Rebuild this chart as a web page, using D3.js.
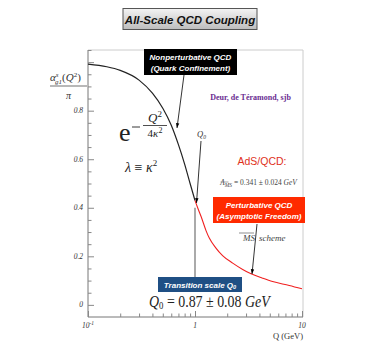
<!DOCTYPE html>
<html><head><meta charset="utf-8">
<script src="https://cdn.jsdelivr.net/npm/d3@7"></script>
<style>body{margin:0;background:#fff}svg{display:block}</style>
</head><body>
<script>
// Data
const qNonpert = [0.1, 0.15, 0.2, 0.3, 0.4, 0.5, 0.6, 0.7, 0.8, 0.9, 1.0];
const aNonpert = [0.992, 0.981, 0.966, 0.926, 0.872, 0.81, 0.74, 0.66, 0.58, 0.50, 0.43];
const qPert = [1.0, 1.07, 1.14, 1.27, 1.36, 1.57, 1.81, 2.25, 2.79, 3.34, 4.28, 5.31, 7.6, 10];
const aPert = [0.43, 0.395, 0.364, 0.305, 0.275, 0.234, 0.203, 0.172, 0.146, 0.128, 0.11, 0.096, 0.08, 0.066];
const yTickValues = [0, 0.2, 0.4, 0.6, 0.8];
const yTickLabels = ["0", "0.2", "0.4", "0.6", "0.8"];
const xTickValues = [0.1, 1, 10];
const xTickLabels = ["10", "1", "10"];
const xTickSups = ["-1", "", ""];

const W = 382, H = 354;
const svg = d3.select("body").append("svg").attr("width", W).attr("height", H);
const defs = svg.append("defs");
const grad = defs.append("linearGradient").attr("id", "tg").attr("x1", 0).attr("y1", 0).attr("x2", 0).attr("y2", 1);
grad.append("stop").attr("offset", "0%").attr("stop-color", "#f4f4f4");
grad.append("stop").attr("offset", "100%").attr("stop-color", "#bdbdbd");
defs.append("marker").attr("id", "ah").attr("viewBox", "0 0 10 10").attr("refX", 10).attr("refY", 5)
  .attr("markerWidth", 6).attr("markerHeight", 6).attr("orient", "auto")
  .append("path").attr("d", "M0,1.5 L10,5 L0,8.5 Z").attr("fill", "#000");

const L = 88, R = 303, T = 50, B = 317;
const x = d3.scaleLog().domain([0.1, 10]).range([L, 302]);
const y = d3.scaleLinear().domain([-0.05, 1.05]).range([B, T]);

const serif = "'Liberation Serif', 'DejaVu Serif', serif";
const sans = "'Liberation Sans', Arial, sans-serif";

// Title box
svg.append("rect").attr("x", 123).attr("y", 8.5).attr("width", 134).attr("height", 21)
  .attr("fill", "url(#tg)").attr("stroke", "#555").attr("stroke-width", 1);
svg.append("text").attr("x", 190).attr("y", 23.5).attr("text-anchor", "middle")
  .attr("font-family", sans).attr("font-weight", "bold").attr("font-style", "italic")
  .attr("font-size", 11.5).attr("fill", "#111").text("All-Scale QCD Coupling");

// Frame
svg.append("path").attr("d", `M${L},${T}H${R}V${B}`).attr("fill", "none").attr("stroke", "#ccc").attr("stroke-width", 1);
svg.append("path").attr("d", `M${L},${T}V${B}H${R}`).attr("fill", "none").attr("stroke", "#777").attr("stroke-width", 1);

// Y axis ticks (inward)
const yAxis = d3.axisRight(y).tickValues(d3.range(-0.05, 1.051, 0.05).map(v => +v.toFixed(2)).filter(v => v > -0.04))
  .tickSize(4).tickFormat("");
const gy = svg.append("g").attr("transform", `translate(${L},0)`).call(yAxis);
gy.select(".domain").remove();
gy.selectAll(".tick line").attr("stroke", "#888").attr("x2", d => (Math.abs(d * 5 - Math.round(d * 5)) < 1e-6) ? 6 : 3.5);
yTickValues.forEach((v, i) => {
  svg.append("text").attr("x", 83).attr("y", y(v) + 2.5).attr("text-anchor", "end")
    .attr("font-family", serif).attr("font-style", "italic").attr("font-size", 7.5).attr("fill", "#333")
    .text(yTickLabels[i]);
});

// X axis ticks (inward)
const xMinor = [];
[0.1, 1].forEach(d => { for (let k = 1; k <= 9; k++) xMinor.push(+(d * k).toFixed(3)); });
xMinor.push(10);
const xAxis = d3.axisTop(x).tickValues(xMinor).tickSize(3).tickFormat("");
const gx = svg.append("g").attr("transform", `translate(0,${B})`).call(xAxis);
gx.select(".domain").remove();
gx.selectAll(".tick line").attr("stroke", "#888").attr("y2", d => xTickValues.includes(d) ? -6 : -3.5);
xTickValues.forEach((v, i) => {
  const t = svg.append("text").attr("x", x(v)).attr("y", 328).attr("text-anchor", "middle")
    .attr("font-family", serif).attr("font-style", "italic").attr("font-size", 7.5).attr("fill", "#333")
    .text(xTickLabels[i]);
  if (xTickSups[i]) t.append("tspan").attr("dy", -3).attr("font-size", 5.5).text(xTickSups[i]);
});
svg.append("text").attr("x", 303).attr("y", 339).attr("text-anchor", "end")
  .attr("font-family", serif).attr("font-size", 8.5).attr("fill", "#333").text("Q (GeV)");

// Y label fraction
const yl = svg.append("text").attr("x", 50).attr("y", 81).attr("font-family", serif).attr("font-size", 11).attr("fill", "#333");
yl.append("tspan").attr("font-style", "italic").text("α");
yl.append("tspan").attr("font-style", "italic").attr("font-size", 7).attr("dy", -4).text("s");
yl.append("tspan").attr("font-style", "italic").attr("font-size", 7).attr("dx", -3.5).attr("dy", 7).text("g1");
yl.append("tspan").attr("dy", -3).text("(");
yl.append("tspan").attr("font-style", "italic").text("Q");
yl.append("tspan").attr("font-size", 7).attr("dy", -4).text("2");
yl.append("tspan").attr("dy", 4).text(")");
svg.append("line").attr("x1", 50).attr("x2", 87).attr("y1", 86).attr("y2", 86).attr("stroke", "#333").attr("stroke-width", 0.7);
svg.append("text").attr("x", 68.5).attr("y", 99).attr("text-anchor", "middle").attr("font-family", serif)
  .attr("font-style", "italic").attr("font-size", 10).attr("fill", "#333").text("π");

// Vertical transition line
svg.append("line").attr("x1", x(1)).attr("x2", x(1)).attr("y1", y(0.4)).attr("y2", 277)
  .attr("stroke", "#aaa").attr("stroke-width", 2);

// Curves
const line = d3.line().x(d => x(d[0])).y(d => y(d[1])).curve(d3.curveMonotoneX);
svg.append("path").attr("d", line(d3.zip(qNonpert, aNonpert))).attr("fill", "none").attr("stroke", "#222").attr("stroke-width", 1.2);
svg.append("path").attr("d", line(d3.zip(qPert, aPert))).attr("fill", "none").attr("stroke", "#f02020").attr("stroke-width", 1.1);

// Nonperturbative box
svg.append("rect").attr("x", 144).attr("y", 49).attr("width", 93).attr("height", 26).attr("fill", "#000");
["Nonperturbative QCD", "(Quark Confinement)"].forEach((s, i) => {
  svg.append("text").attr("x", 190.5).attr("y", 59.5 + i * 11).attr("text-anchor", "middle")
    .attr("font-family", sans).attr("font-weight", "bold").attr("font-style", "italic")
    .attr("font-size", 8).attr("fill", "#fff").text(s);
});
svg.append("line").attr("x1", 184).attr("y1", 75).attr("x2", 177).attr("y2", 128)
  .attr("stroke", "#000").attr("stroke-width", 0.8).attr("marker-end", "url(#ah)");

// exponential formula
svg.append("text").attr("x", 119).attr("y", 141).attr("font-family", serif).attr("font-size", 26).attr("fill", "#222").text("e");
svg.append("line").attr("x1", 132).attr("x2", 140).attr("y1", 127).attr("y2", 127).attr("stroke", "#222").attr("stroke-width", 0.9);
const num = svg.append("text").attr("x", 155).attr("y", 122).attr("text-anchor", "middle").attr("font-family", serif).attr("font-size", 13).attr("fill", "#222");
num.append("tspan").attr("font-style", "italic").text("Q");
num.append("tspan").attr("font-size", 9).attr("dy", -5).text("2");
svg.append("line").attr("x1", 143).attr("x2", 167).attr("y1", 125.5).attr("y2", 125.5).attr("stroke", "#222").attr("stroke-width", 0.8);
const den = svg.append("text").attr("x", 155).attr("y", 137).attr("text-anchor", "middle").attr("font-family", serif).attr("font-size", 11).attr("fill", "#222");
den.append("tspan").text("4");
den.append("tspan").attr("font-style", "italic").text("κ");
den.append("tspan").attr("font-size", 8).attr("dy", -4).text("2");

const lam = svg.append("text").attr("x", 125).attr("y", 172).attr("font-family", serif).attr("font-size", 14).attr("fill", "#222");
lam.append("tspan").attr("font-style", "italic").text("λ");
lam.append("tspan").text(" ≡ ");
lam.append("tspan").attr("font-style", "italic").text("κ");
lam.append("tspan").attr("font-size", 9).attr("dy", -6).text("2");

// Authors
svg.append("text").attr("x", 250.5).attr("y", 100).attr("text-anchor", "middle").attr("font-family", serif)
  .attr("font-weight", "bold").attr("font-size", 8).attr("fill", "#6a2c91").text("Deur, de Téramond, sjb");

// Q0 label and arrow
const q0 = svg.append("text").attr("x", 197).attr("y", 137).attr("font-family", serif).attr("font-style", "italic").attr("font-size", 8.5).attr("fill", "#333");
q0.append("tspan").text("Q");
q0.append("tspan").attr("font-size", 5.5).attr("dy", 2).text("0");
svg.append("line").attr("x1", 201).attr("y1", 141).attr("x2", 196.5).attr("y2", 203)
  .attr("stroke", "#000").attr("stroke-width", 0.8).attr("marker-end", "url(#ah)");

// AdS/QCD
svg.append("text").attr("x", 262).attr("y", 165).attr("text-anchor", "middle").attr("font-family", sans)
  .attr("font-size", 10.5).attr("fill", "#e0301a").text("AdS/QCD:");
const lm = svg.append("text").attr("x", 258.5).attr("y", 185).attr("text-anchor", "middle").attr("font-family", serif).attr("font-size", 7.5).attr("fill", "#444");
lm.append("tspan").attr("font-style", "italic").text("Λ");
lm.append("tspan").attr("font-style", "italic").attr("font-size", 5.5).attr("dy", 2).text("MS");
lm.append("tspan").attr("dy", -2).text(" = 0.341 ± 0.024 ");
lm.append("tspan").attr("font-style", "italic").text("GeV");
svg.append("line").attr("x1", 220.5).attr("x2", 228.5).attr("y1", 182).attr("y2", 182).attr("stroke", "#444").attr("stroke-width", 0.5);

// Perturbative box
svg.append("rect").attr("x", 213).attr("y", 197).attr("width", 92).attr("height", 26).attr("fill", "#ff2a00");
["Perturbative QCD", "(Asymptotic Freedom)"].forEach((s, i) => {
  svg.append("text").attr("x", 259).attr("y", 207.5 + i * 11).attr("text-anchor", "middle")
    .attr("font-family", sans).attr("font-weight", "bold").attr("font-style", "italic")
    .attr("font-size", 8).attr("fill", "#fff").text(s);
});
// MS scheme
svg.append("text").attr("x", 255).attr("y", 241).attr("text-anchor", "end").attr("font-family", serif)
  .attr("font-style", "italic").attr("font-size", 9).attr("fill", "#444").text("MS");
svg.append("line").attr("x1", 239).attr("x2", 254).attr("y1", 233).attr("y2", 233).attr("stroke", "#444").attr("stroke-width", 0.6);
svg.append("text").attr("x", 259).attr("y", 241).attr("font-family", serif)
  .attr("font-style", "italic").attr("font-size", 9).attr("fill", "#444").text("scheme");
svg.append("line").attr("x1", 257).attr("y1", 224).attr("x2", 252).attr("y2", 274)
  .attr("stroke", "#000").attr("stroke-width", 0.8).attr("marker-end", "url(#ah)");

// Transition box
svg.append("rect").attr("x", 158).attr("y", 277).attr("width", 84).attr("height", 15).attr("fill", "#1f4f84");
const tr = svg.append("text").attr("x", 200).attr("y", 287.5).attr("text-anchor", "middle").attr("font-family", sans)
  .attr("font-weight", "bold").attr("font-style", "italic").attr("font-size", 8).attr("fill", "#fff");
tr.append("tspan").text("Transition scale Q");
tr.append("tspan").attr("font-size", 5.5).attr("dy", 1.5).text("0");

// Q0 value (horizontally condensed like the reference's math font)
const qv = svg.append("text").attr("transform", "translate(149,306.5) scale(0.87,1)")
  .attr("font-family", serif).attr("font-size", 16).attr("fill", "#222");
qv.append("tspan").attr("font-style", "italic").text("Q");
qv.append("tspan").attr("font-size", 10).attr("dy", 2.5).text("0");
qv.append("tspan").attr("dy", -2.5).text(" = 0.87 ± 0.08 ");
qv.append("tspan").attr("font-style", "italic").text("GeV");
</script>
</body></html>
